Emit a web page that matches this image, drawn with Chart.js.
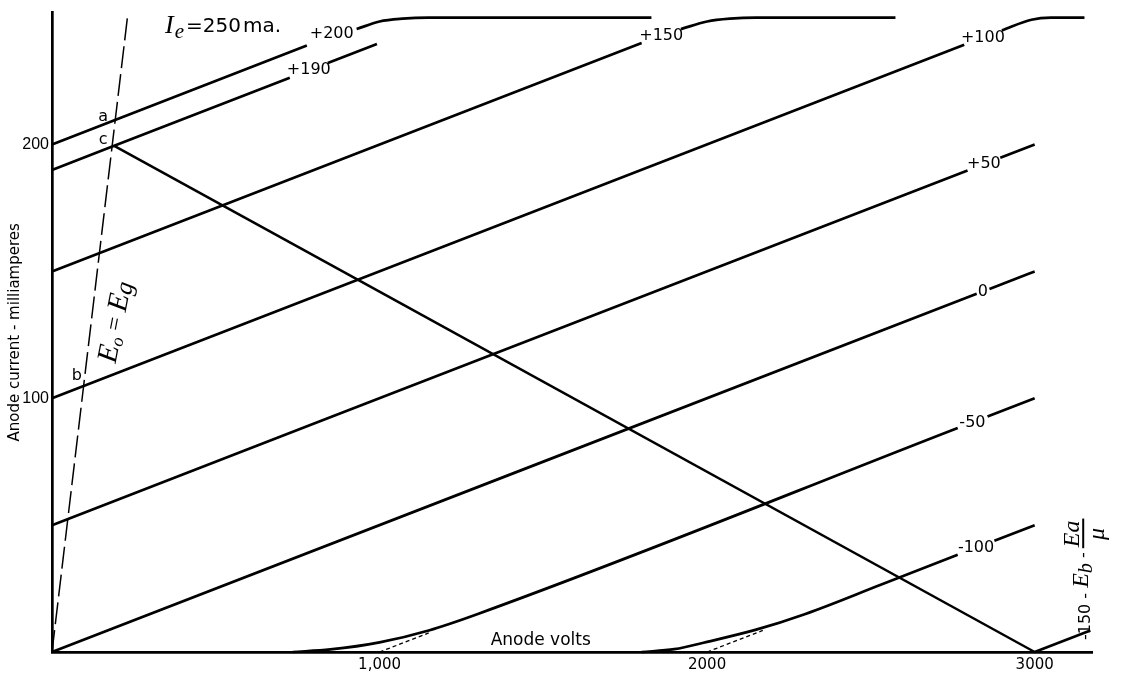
<!DOCTYPE html>
<html>
<head>
<meta charset="utf-8">
<script src="https://cdn.jsdelivr.net/npm/chart.js@4"></script>
<style>
  html, body { margin: 0; padding: 0; background: #fff; }
  #wrap { width: 1125px; height: 679px; }
</style>
</head>
<body>
<div id="wrap"><canvas id="plate"></canvas></div>
<script>
// Anode characteristics, [anode volts, anode mA]; null = break for the grid label
const curveP200 = [[0, 200], [778, 239], null, [930, 245.5], [1000, 248.5], [1070, 249.6], [1150, 250], [1830, 250]]
const curveP190 = [[0, 190], [726, 226.3], null, [842, 232.1], [992, 239.6]]
const curveP150 = [[0, 150], [1800, 240], null, [1920, 245.5], [2000, 248.5], [2070, 249.6], [2150, 250], [2575, 250]]
const curveP100 = [[0, 100], [2785, 239.3], null, [2900, 245], [2990, 249.2], [3050, 250], [3152, 250]]
const curveP50 = [[0, 50], [2795, 189.8], null, [2895, 194.8], [3000, 200]]
const curveZero = [[0, 0], [2823, 141.2], null, [2862, 143.1], [3000, 150]]
const curveM50 = [[735, 0], [850, 1], [1000, 3.8], [1150, 8.5], [1300, 15], [2765, 88.3], null, [2856, 92.8], [3000, 100]]
const curveM100 = [[1800, 0], [1900, 1.1], [2000, 4], [2150, 8.8], [2300, 15], [2530, 26.5], [2765, 38.3], null, [2877, 43.8], [3000, 50]]
const curveM150 = [[3000, 0], [3170, 8.5]]

// load line from c down to 3000 V, and the Eo = Eg boundary
const loadLine = [[190, 199.5], [3000, 0]]
const gridEqualsPlate = [[0, 0], [232, 252]]

// straight extrapolations under the curved feet
const cutoffM50 = [[1000, 0], [1150, 7.5]]
const cutoffM100 = [[2000, 0], [2170, 8.5]]

// grid-voltage labels sitting in the breaks
const gridLabels = ["+200", "+190", "+150", "+100", "+50", "0", "-50", "-100"]
const gridLabelVolts = [854, 784, 1860, 2842, 2845, 2842, 2810, 2821]
const gridLabelAmps = [243.5, 229.5, 243, 242, 192.2, 142.1, 90.5, 41]

// points a, b, c
const pointNames = ["a", "c", "b"]
const pointVolts = [156, 156, 76]
const pointAmps = [211, 202, 109]

// axes
const xTickValues = [1000, 2000, 3000]
const xTickLabels = ["1,000", "2000", "3000"]
const yTickValues = [100, 200]
const yTickLabels = ["100", "200"]

const SANS = '"DejaVu Sans", sans-serif'
const NARROW = '"Liberation Sans", "DejaVu Sans", sans-serif'
const SERIF = '"Liberation Serif", "DejaVu Serif", serif'

function toPoints(pairs) {
  return pairs.map((p, i) => (p ? { x: p[0], y: p[1] } : { x: pairs[i - 1][0], y: null }))
}

function curve(pairs, extra) {
  return Object.assign(
    {
      data: toPoints(pairs),
      borderColor: "#000",
      borderWidth: 2.7,
      pointRadius: 0,
      fill: false,
      spanGaps: false,
      cubicInterpolationMode: "monotone",
      clip: 6,
    },
    extra || {},
  )
}

const whiteBg = {
  id: "whiteBg",
  beforeDraw(chart) {
    const ctx = chart.ctx
    ctx.save()
    ctx.fillStyle = "#fff"
    ctx.fillRect(0, 0, chart.width, chart.height)
    ctx.restore()
  },
}

const annotate = {
  id: "annotate",
  afterDatasetsDraw(chart) {
    const { ctx } = chart
    const x = chart.scales.x
    const y = chart.scales.y
    ctx.save()
    ctx.fillStyle = "#000"

    // grid voltage labels
    ctx.font = "16px " + SANS
    ctx.textAlign = "center"
    ctx.textBaseline = "middle"
    gridLabels.forEach((t, i) => {
      ctx.fillText(t, x.getPixelForValue(gridLabelVolts[i]), y.getPixelForValue(gridLabelAmps[i]))
    })

    // a, b, c
    ctx.font = "16px " + SANS
    pointNames.forEach((t, i) => {
      ctx.fillText(t, x.getPixelForValue(pointVolts[i]), y.getPixelForValue(pointAmps[i]))
    })

    // axis name sitting inside the plot
    ctx.font = "17px " + SANS
    ctx.fillText("Anode volts", x.getPixelForValue(1492), y.getPixelForValue(4.5))

    // Ie = 250 ma.
    ctx.textAlign = "left"
    ctx.textBaseline = "alphabetic"
    let px = x.getPixelForValue(345)
    const py = y.getPixelForValue(243.8)
    ctx.font = "italic 26px " + SERIF
    ctx.fillText("I", px, py)
    px += ctx.measureText("I").width + 1
    ctx.font = "italic 21px " + SERIF
    ctx.fillText("e", px, py + 5)
    px += ctx.measureText("e").width + 2
    ctx.font = "20px " + SANS
    ctx.fillText("=250", px, py - 1)
    px += ctx.measureText("=250").width + 2
    ctx.fillText("ma.", px, py - 1)

    // Eo = Eg along the dashed boundary
    ctx.save()
    ctx.translate(x.getPixelForValue(195), y.getPixelForValue(130))
    ctx.rotate((-79 * Math.PI) / 180)
    ctx.textBaseline = "middle"
    const parts = [
      ["E", "italic 29px " + SERIF, 0],
      ["o", "italic 18px " + SERIF, 6],
      [" = ", "24px " + SERIF, 0],
      ["E", "italic 29px " + SERIF, 0],
      ["g", "italic 25px " + SERIF, 3],
    ]
    let w = 0
    parts.forEach(([t, f]) => { ctx.font = f; w += ctx.measureText(t).width })
    let cx = -w / 2
    parts.forEach(([t, f, dy]) => {
      ctx.font = f
      ctx.fillText(t, cx, dy)
      cx += ctx.measureText(t).width
    })
    ctx.restore()

    // -150 = Eb - Ea/mu, written up the right side
    ctx.save()
    ctx.translate(x.getPixelForValue(3168), y.getPixelForValue(4.7))
    ctx.rotate(-Math.PI / 2)
    ctx.textBaseline = "alphabetic"
    let tx = 0
    ctx.font = "16px " + SANS
    ctx.fillText("-150 - ", tx, 0)
    tx += ctx.measureText("-150 - ").width
    ctx.font = "italic 24px " + SERIF
    ctx.fillText("E", tx, -2)
    tx += ctx.measureText("E").width
    ctx.font = "italic 20px " + SERIF
    ctx.fillText("b", tx, 2)
    tx += ctx.measureText("b").width
    ctx.font = "16px " + SANS
    ctx.fillText(" - ", tx, -2)
    tx += ctx.measureText(" - ").width
    ctx.font = "italic 24px " + SERIF
    const num = "Ea"
    const nw = ctx.measureText(num).width
    ctx.fillText(num, tx, -11)
    ctx.fillRect(tx - 1, -7.5, nw + 3, 2)
    ctx.fillText("\u03bc", tx + nw / 2 - 6, 14)
    ctx.restore()

    ctx.restore()
  },
}

new Chart(document.getElementById("plate"), {
  type: "line",
  data: {
    datasets: [
      curve(curveP200),
      curve(curveP190),
      curve(curveP150),
      curve(curveP100),
      curve(curveP50),
      curve(curveZero),
      curve(curveM50),
      curve(curveM100),
      curve(curveM150),
      curve(loadLine, { borderWidth: 2.5 }),
      curve(gridEqualsPlate, { borderWidth: 1.5, borderDash: [22, 6] }),
      curve(cutoffM50, { borderWidth: 1.3, borderDash: [4, 3] }),
      curve(cutoffM100, { borderWidth: 1.3, borderDash: [4, 3] }),
    ],
  },
  options: {
    responsive: true,
    maintainAspectRatio: false,
    animation: false,
    layout: { padding: { top: 7, right: 33, left: 0, bottom: 0 } },
    plugins: {
      legend: { display: false },
      tooltip: { enabled: false },
    },
    scales: {
      x: {
        type: "linear",
        min: 0,
        max: 3175,
        grid: { display: false, drawTicks: false },
        border: { display: true, color: "#000", width: 2.7 },
        ticks: {
          color: "#000",
          font: { family: SANS, size: 15 },
          padding: 4,
          maxRotation: 0,
          autoSkip: false,
          callback: (v) => xTickLabels[xTickValues.indexOf(v)],
        },
        afterBuildTicks: (s) => { s.ticks = xTickValues.map((v) => ({ value: v })) },
        afterFit: (s) => { s.height = 27 },
      },
      y: {
        min: 0,
        max: 252,
        grid: { display: false, drawTicks: false },
        border: { display: true, color: "#000", width: 2.7 },
        ticks: {
          color: "#000",
          font: { family: NARROW, size: 16 },
          padding: 3,
          autoSkip: false,
          callback: (v) => yTickLabels[yTickValues.indexOf(v)],
        },
        afterBuildTicks: (s) => { s.ticks = yTickValues.map((v) => ({ value: v })) },
        afterFit: (s) => { s.width = 52 },
        title: {
          display: true,
          text: "Anode current - milliamperes",
          color: "#000",
          font: { family: SANS, size: 15 },
          padding: { top: 6, bottom: 0 },
        },
      },
    },
  },
  plugins: [whiteBg, annotate],
})
</script>
</body>
</html>
